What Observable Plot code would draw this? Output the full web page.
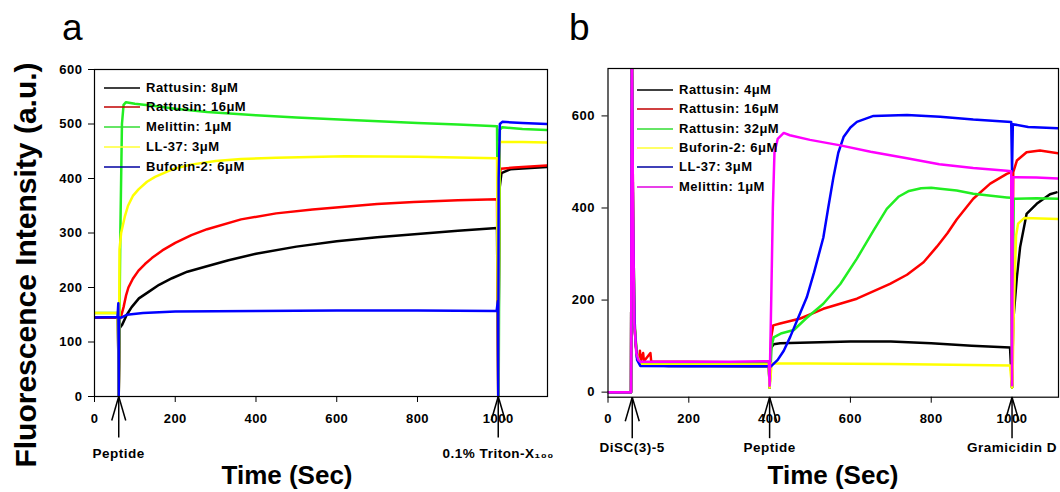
<!DOCTYPE html>
<html><head><meta charset="utf-8">
<script src="https://cdn.jsdelivr.net/npm/d3@7"></script>
<script src="https://cdn.jsdelivr.net/npm/@observablehq/plot@0.6"></script>
<style>
body{margin:0;background:#fff;}
#wrap{position:relative;width:1060px;height:492px;overflow:hidden;font-family:Arial,"Liberation Sans",sans-serif;color:#000;}
.abs{position:absolute;white-space:nowrap;}
.plot{position:absolute;top:0;}
.panel-letter{font-size:37px;line-height:37px;font-weight:normal;}
.ylab{font-size:30px;font-weight:bold;line-height:30px;transform:translate(-50%,-50%) rotate(-90deg);}
.xlab{font-size:26px;font-weight:bold;line-height:28px;transform:translateX(-50%);}
.leg{font-size:13px;font-weight:bold;letter-spacing:0.5px;line-height:14px;display:flex;align-items:center;}
.leg svg{margin-right:6px;}
</style></head><body><div id="wrap"></div>
<script>
// ---------- Panel a (time s, fluorescence a.u.) ----------
const a_rattusin8 = [[0,145],[58,145],[60,0],[62,125],[68,131],[80,150],[92,164],[110,180],[134,192],[160,205],[192,217],[230,229],[274,238],[332,250],[400,262],[500,275],[600,285],[700,292],[800,298],[900,304],[997,309],[1000,0],[1003,380],[1008,410],[1030,417],[1120,421]];
const a_rattusin16 = [[0,145],[58,145],[60,0],[62,140],[67,150],[72,164],[78,185],[84,200],[95,216],[109,231],[125,243],[142,254],[168,268],[200,282],[240,296],[279,307],[363,325],[450,336],[540,343],[620,348],[700,353],[791,357],[900,360],[997,362],[1000,0],[1003,400],[1006,418],[1040,420],[1080,422],[1120,424]];
const a_melittin1 = [[0,153],[58,153],[60,0],[64,300],[68,500],[72,535],[78,540],[100,537],[150,533],[200,528],[279,522],[400,516],[500,512],[620,508],[800,502],[900,499],[997,496],[1001,0],[1004,490],[1010,494],[1060,491],[1120,489]];
const a_ll37 = [[0,153],[58,153],[60,0],[62,270],[66,300],[75,330],[83,350],[95,368],[109,380],[130,394],[150,403],[190,416],[235,425],[300,432],[363,436],[450,438],[620,441],[800,440],[997,437],[1000,0],[1003,467],[1060,467],[1120,466]];
const a_buforin6 = [[0,145],[57,146],[59,171],[60,0],[61,144],[70,146],[80,150],[120,153],[200,156],[400,157],[600,158],[800,158],[996,157],[999,175],[1000,0],[1001,400],[1004,500],[1010,504],[1060,502],[1120,500]];

const legendA = ["Rattusin: 8\u03bcM","Rattusin: 16\u03bcM","Melittin: 1\u03bcM","LL-37: 3\u03bcM","Buforin-2: 6\u03bcM"];
const seriesA = [a_rattusin8, a_rattusin16, a_melittin1, a_ll37, a_buforin6];
const eventsA = [{time:60,label:"Peptide"},{time:1000,label:"0.1% Triton-X\u2081\u2080\u2080"}];
const xTicksA = [0,200,400,600,800,1000];
const yTicksA = [0,100,200,300,400,500,600];

// ---------- Panel b (time s, fluorescence a.u.) ----------
const b_rattusin4 = [[0,0],[57,0],[59,750],[62,350],[64,200],[68,110],[72,75],[80,60],[150,57],[250,57],[350,56],[398,56],[400,10],[403,95],[410,104],[426,106],[500,108],[600,110],[700,110],[800,106],[900,101],[995,97],[1000,10],[1003,155],[1012,250],[1020,315],[1036,387],[1061,409],[1094,430],[1110,434]];
const b_rattusin16 = [[0,0],[57,0],[59,750],[62,400],[65,150],[70,90],[75,70],[78,68],[79,90],[81,68],[87,85],[89,67],[105,85],[107,66],[200,66],[300,65],[398,65],[400,10],[404,120],[409,145],[426,149],[476,160],[533,181],[616,203],[698,235],[740,255],[781,282],[814,316],[840,345],[863,375],[904,420],[946,453],[987,474],[998,478],[1000,10],[1003,478],[1012,503],[1036,521],[1069,525],[1114,519]];
const b_rattusin32 = [[0,0],[57,0],[59,750],[62,380],[66,140],[72,80],[80,62],[200,62],[300,62],[398,62],[400,10],[405,100],[410,119],[430,128],[460,135],[490,160],[533,192],[575,235],[616,290],[657,351],[690,398],[720,425],[745,437],[775,443],[800,444],[822,442],[863,438],[904,431],[987,423],[998,422],[1000,10],[1004,420],[1060,421],[1114,420]];
const b_buforin6 = [[0,0],[57,0],[59,750],[62,380],[66,140],[72,80],[80,60],[398,60],[400,10],[405,62],[500,62],[700,61],[900,59],[995,58],[1000,10],[1001,20],[1005,200],[1010,340],[1015,366],[1030,378],[1114,376]];
const b_ll37 = [[0,0],[57,0],[59,750],[62,380],[66,140],[72,70],[80,57],[200,56],[300,56],[398,56],[402,55],[420,70],[435,90],[451,120],[470,160],[492,206],[510,260],[533,336],[545,400],[558,467],[570,520],[583,554],[600,575],[616,587],[657,600],[740,602],[822,598],[904,592],[998,587],[1000,480],[1002,582],[1040,576],[1114,573]];
const b_melittin1 = [[0,0],[57,0],[59,750],[62,400],[65,150],[70,85],[75,70],[80,66],[200,66],[300,66],[398,67],[400,14],[404,200],[408,400],[412,520],[420,550],[435,563],[450,558],[500,548],[575,536],[650,522],[740,508],[820,495],[904,487],[987,481],[998,480],[1000,15],[1002,467],[1060,466],[1114,464]];

const legendB = ["Rattusin: 4\u03bcM","Rattusin: 16\u03bcM","Rattusin: 32\u03bcM","Buforin-2: 6\u03bcM","LL-37: 3\u03bcM","Melittin: 1\u03bcM"];
const seriesB = [b_rattusin4, b_rattusin16, b_rattusin32, b_buforin6, b_ll37, b_melittin1];
const eventsB = [{time:60,label:"DiSC(3)-5"},{time:400,label:"Peptide"},{time:1000,label:"Gramicidin D"}];
const xTicksB = [0,200,400,600,800,1000];
const yTicksB = [0,200,400,600];

// ---------- styles ----------
const colorsA = ["#000000","#ff0000","#22ee22","#ffff00","#0000ff"];
const legColorsA = ["#000000","#c00000","#33dd33","#ffff33","#0000a0"];
const colorsB = ["#000000","#ff0000","#22ee22","#ffff00","#0000ff","#ff00ff"];
const legColorsB = ["#000000","#c00000","#33dd33","#ffff33","#0000a0","#e000e0"];

const wrap = document.getElementById("wrap");

function panel(o) {
  const pw = o.width - o.mL - o.mR, ph = o.height - o.mT - o.mB;
  const ux = (o.xDomain[1]-o.xDomain[0])/pw, uy = (o.yDomain[1]-o.yDomain[0])/ph;
  const base = o.yDomain[0];
  const low = base - 41*uy, wingY = base - 24*uy, wingX = 7*ux;
  const marks = [
    ...o.series.map((s,i) => Plot.line(s, {x: d=>d[0], y: d=>d[1], stroke: o.colors[i], strokeWidth: 2.5, clip: true})),
    Plot.frame({stroke:"#000", strokeWidth:1.2}),
    Plot.link(o.events, {x1:"time", x2:"time", y1: low, y2: base, stroke:"#000", strokeWidth:1.5}),
    Plot.link(o.events, {x1: d=>d.time-wingX, x2:"time", y1: wingY, y2: base, stroke:"#000", strokeWidth:1.5}),
    Plot.link(o.events, {x1: d=>d.time+wingX, x2:"time", y1: wingY, y2: base, stroke:"#000", strokeWidth:1.5}),
    Plot.text(o.events, {x:"time", y: low, text:"label", dy: o.textDy, fontSize: 13.5, fontWeight:"bold", fill:"#000", textAnchor:"middle"})
  ];
  const svg = Plot.plot({
    width: o.width, height: o.height,
    marginLeft: o.mL, marginRight: o.mR, marginTop: o.mT, marginBottom: o.mB,
    style: {fontFamily: "Arial, 'Liberation Sans', sans-serif", fontSize: "13px", fontWeight: "bold", color: "#000", background: "transparent", overflow: "visible"},
    x: {domain: o.xDomain, ticks: o.xTicks, tickFormat: "d", tickSize: 6, tickPadding: 11, label: null},
    y: {domain: o.yDomain, ticks: o.yTicks, tickFormat: "d", tickSize: 6, tickPadding: o.yPad, label: null},
    marks
  });
  svg.classList.add("plot");
  svg.style.left = o.left + "px";
  svg.style.letterSpacing = "0.5px";
  wrap.appendChild(svg);
}

panel({left:0, width:560, height:470, mL:94, mR:13, mT:69, mB:74,
  xDomain:[0,1122], yDomain:[0,600], xTicks:xTicksA, yTicks:yTicksA, yPad:6,
  series: seriesA, colors: colorsA, events: eventsA, textDy: 16});
panel({left:560, width:500, height:470, mL:47.5, mR:2, mT:68, mB:73.3,
  xDomain:[0,1115], yDomain:[-11,703], xTicks:xTicksB, yTicks:yTicksB, yPad:7,
  series: seriesB, colors: colorsB, events: eventsB, textDy: 9});

function addText(cls, text, left, top) {
  const d = document.createElement("div");
  d.className = "abs " + cls;
  d.textContent = text;
  d.style.left = left + "px"; d.style.top = top + "px";
  wrap.appendChild(d);
  return d;
}
addText("panel-letter", "a", 62, 9);
addText("panel-letter", "b", 569, 9);
addText("ylab", "Fluorescence Intensity (a.u.)", 26, 265);
addText("xlab", "Time (Sec)", 287, 461);
addText("xlab", "Time (Sec)", 833, 461);

function legend(labels, colors, left, top, step) {
  labels.forEach((lab, i) => {
    const d = document.createElement("div");
    d.className = "abs leg";
    d.style.left = left + "px";
    d.style.top = (top + i*step - 7) + "px";
    d.innerHTML = `<svg width="36" height="4"><line x1="0" x2="36" y1="2" y2="2" stroke="${colors[i]}" stroke-width="1.6"/></svg>`;
    const s = document.createElement("span"); s.textContent = lab; d.appendChild(s);
    wrap.appendChild(d);
  });
}
legend(legendA, legColorsA, 104, 87.5, 19.8);
legend(legendB, legColorsB, 637, 90, 19.35);
</script>
</body></html>
